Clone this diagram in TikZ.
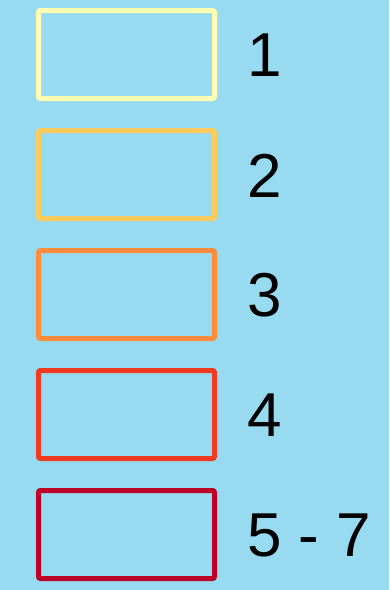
\documentclass[tikz,border=0pt]{standalone}
\usepackage{fontspec}
\setmainfont{Liberation Sans}
\usetikzlibrary{positioning}
\definecolor{skyback}{HTML}{98DAF0}
\definecolor{levelone}{HTML}{FFFFB2}
\definecolor{leveltwo}{HTML}{FECC5C}
\definecolor{levelthree}{HTML}{FD8D3C}
\definecolor{levelfour}{HTML}{F03B20}
\definecolor{levelfive}{HTML}{BD0026}

\begin{document}
\begin{tikzpicture}[
    x=1pt, y=-1pt,
    keybox/.style={draw=#1, line width=5pt, rounded corners=2pt, minimum width=176pt, minimum height=88pt, inner sep=0pt},
    keytext/.style={right=30pt of #1, yshift=-1pt, inner sep=0pt, font=\fontsize{62}{62}\selectfont},
]
    % Background
    \fill[skyback] (0,0) rectangle (389,590);
    \useasboundingbox (0,0) rectangle (389,590);

    % Boxes
    \node[keybox=levelone] (box1) at (126.5, 54.5) {};
    \node[keybox=leveltwo] (box2) at (126.5, 174.5) {};
    \node[keybox=levelthree] (box3) at (126.5, 294.5) {};
    \node[keybox=levelfour] (box4) at (126.5, 414.5) {};
    \node[keybox=levelfive] (box5) at (126.5, 534.5) {};

    % Labels
    \node[keytext=box1] (lab1) {1};
    \node[keytext=box2] (lab2) {2};
    \node[keytext=box3] (lab3) {3};
    \node[keytext=box4] (lab4) {4};
    \node[keytext=box5] (lab5) {5 - 7};
\end{tikzpicture}
\end{document}
